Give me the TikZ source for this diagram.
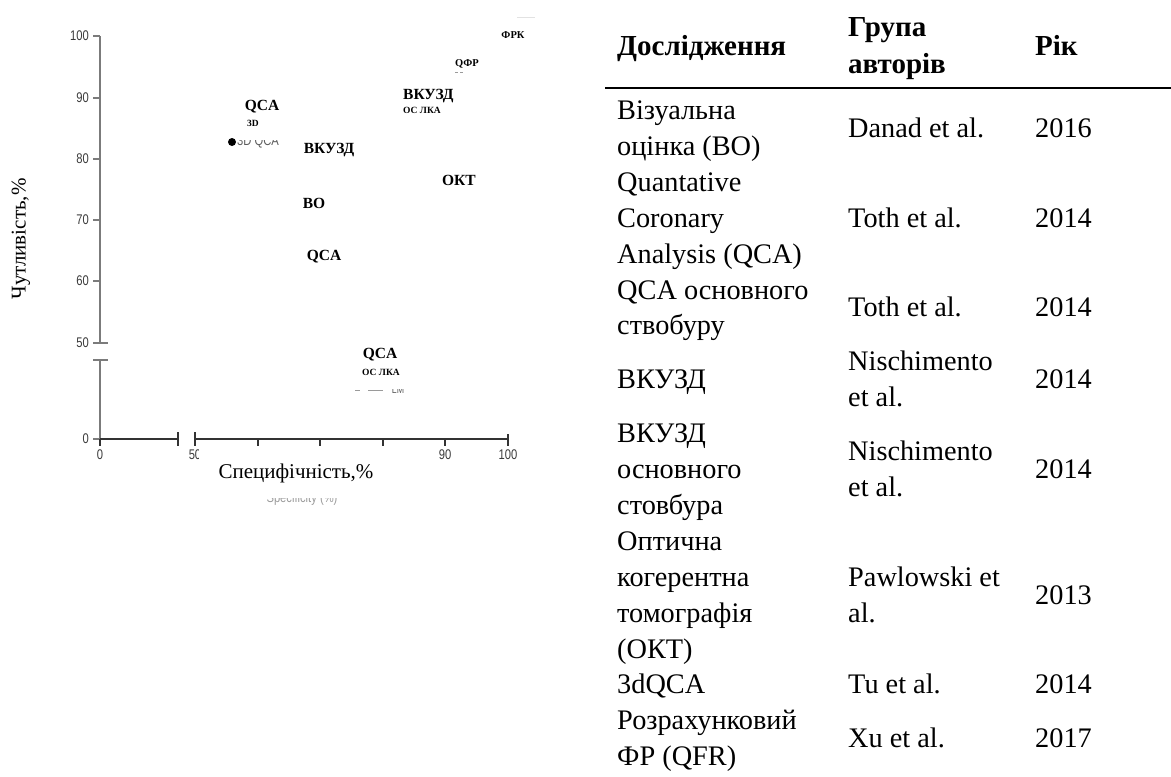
\documentclass[tikz,border=0pt]{standalone}
\usepackage{fontspec}
\setmainfont{Liberation Serif}
\newfontfamily\condsans[FakeStretch=0.8]{Liberation Sans}
\definecolor{axisgray}{HTML}{7B7B7B}
\definecolor{axisdark}{HTML}{333333}
\definecolor{ticktext}{HTML}{3A3A3A}
\definecolor{faintgray}{HTML}{9A9A9A}
\definecolor{veryfaint}{HTML}{E2E2E2}
\tikzset{
  ticklab/.style={font=\condsans\fontsize{14}{14}\selectfont, text=ticktext, inner sep=0pt},
  biglab/.style={font=\fontsize{15.5}{16}\selectfont\bfseries, inner sep=0pt},
  smalllab/.style={font=\fontsize{9.5}{10}\selectfont\bfseries, inner sep=0pt},
  axislab/.style={font=\fontsize{21}{21}\selectfont, inner sep=0pt},
  cell/.style={font=\fontsize{28.3}{30}\selectfont, anchor=base west, inner sep=0pt},
  head/.style={font=\fontsize{29}{31}\selectfont\bfseries, anchor=base west, inner sep=0pt},
  yaxisline/.style={axisgray, line width=1.8pt},
  ytick/.style={axisgray, line width=1.3pt},
  xaxisline/.style={axisdark, line width=1.3pt},
}
\begin{document}
\begin{tikzpicture}[x=1pt,y=-1pt]
\useasboundingbox (0,0) rectangle (1171,777);

% ---------- y axis ----------
\draw[yaxisline] (100,36) -- (100,343);
\draw[yaxisline] (100,360) -- (100,439);
\foreach \yy in {36,98,159,220,281,439} \draw[ytick] (93,\yy) -- (100,\yy);
\draw[ytick] (93,343) -- (108,343);
\draw[ytick] (93,360) -- (108,360);
\foreach \lab/\yy in {100/36,90/98,80/159,70/220,60/281,50/343,0/439}
  \node[ticklab, anchor=east] (yl\lab) at (89,\yy) {\lab};

% ---------- x axis ----------
\draw[xaxisline] (100,439) -- (178,439);
\draw[xaxisline] (178,432) -- (178,446);
\draw[xaxisline] (195,432) -- (195,446);
\draw[xaxisline] (195,439) -- (508,439);
\draw[xaxisline] (508,434) -- (508,446);
\foreach \xx in {100,258,320,383,445} \draw[xaxisline] (\xx,439) -- (\xx,446);
\node[ticklab] (xl0) at (100,455) {0};
\begin{scope}
  \clip (180,445) rectangle (198,466);
  \node[ticklab] (xl50) at (195,455) {50};
\end{scope}
\node[ticklab] (xl90) at (445,455) {90};
\node[ticklab] (xl100) at (508,455) {100};

% ---------- axis titles ----------
\node[axislab, rotate=90] (ytitle) at (21,239) {Чутливість,\%};
\node[axislab] (xtitle) at (296,473) {Специфічність,\%};
\begin{scope}
  \clip (240,498.5) rectangle (360,512);
  \node[ticklab, text=faintgray] (xtitleen) at (302,499) {Specificity (\%)};
\end{scope}

% ---------- plot labels ----------
\draw[veryfaint, line width=0.8pt] (517,17) -- (535,17);
\node[smalllab, font=\fontsize{10.5}{11}\selectfont\bfseries] (frk) at (513,35) {ФРК};
\node[smalllab, font=\fontsize{10.5}{11}\selectfont\bfseries] (qfr) at (467,64) {QФР};
\draw[faintgray, line width=0.8pt] (455,72.5) -- (458,72.5) (460,72.5) -- (463,72.5);
\node[biglab, anchor=west] (vkuzd1) at (403,96) {ВКУЗД};
\node[smalllab, anchor=west] (oslka1) at (403,110) {ОС ЛКА};
\node[biglab] (qca1) at (262,107) {QCA};
\node[smalllab, anchor=west] (td) at (247,123) {3D};
\fill (232,142) circle (4);
\begin{scope}
  \clip (236,140.5) rectangle (283,152);
  \node[ticklab, anchor=west, text=faintgray!60!black] (tdqca) at (237,142) {3D QCA};
\end{scope}
\node[biglab] (vkuzd2) at (329,150) {ВКУЗД};
\node[biglab] (okt) at (459,180) {ОКТ};
\node[biglab] (vo) at (314,203) {ВО};
\node[biglab] (qca2) at (324,257) {QCA};
\node[biglab] (qca3) at (380,355) {QCA};
\node[smalllab, anchor=west] (oslka2) at (362,372) {ОС ЛКА};
\draw[faintgray, line width=0.8pt] (355,390) -- (360,390) (368,390) -- (383,390);
\begin{scope}
  \clip (390,389) rectangle (410,396);
  \node[ticklab, font=\condsans\fontsize{11}{11}\selectfont, text=faintgray!60!black] (lm) at (398,390) {LM};
\end{scope}

% ---------- table ----------
\node[head] (h1) at (617,55) {Дослідження};
\node[head] (h2a) at (848,36) {Група};
\node[head] (h2b) at (848,73) {авторів};
\node[head] (h3) at (1035,55) {Рік};
\draw[line width=2pt] (605,88) -- (1171,88);

\foreach \t/\l [count=\i, evaluate=\l as \yy using 119.5+35.9*\l] in {
  {Візуальна}/0, {оцінка (ВО)}/1, {Quantative}/2, {Coronary}/3,
  {Analysis (QCA)}/4, {QCA основного}/5, {ствобуру}/6, {ВКУЗД}/7.5,
  {ВКУЗД}/9, {основного}/10, {стовбура}/11, {Оптична}/12,
  {когерентна}/13, {томографія}/14, {(ОКТ)}/15, {3dQCA}/16,
  {Розрахунковий}/17, {ФР (QFR)}/18}
  \node[cell] (a\i) at (617,\yy) {\t};

\foreach \t/\l [count=\i, evaluate=\l as \yy using 119.5+35.9*\l] in {
  {Danad et al.}/0.5, {Toth et al.}/3, {Toth et al.}/5.5,
  {Nischimento}/7, {et al.}/8, {Nischimento}/9.5, {et al.}/10.5,
  {Pawlowski et}/13, {al.}/14, {Tu et al.}/16, {Xu et al.}/17.5}
  \node[cell] (b\i) at (848,\yy) {\t};

\foreach \t/\l [count=\i, evaluate=\l as \yy using 119.5+35.9*\l] in {
  2016/0.5, 2014/3, 2014/5.5, 2014/7.5, 2014/10,
  2013/13.5, 2014/16, 2017/17.5}
  \node[cell] (c\i) at (1035,\yy) {\t};
\end{tikzpicture}
\end{document}
